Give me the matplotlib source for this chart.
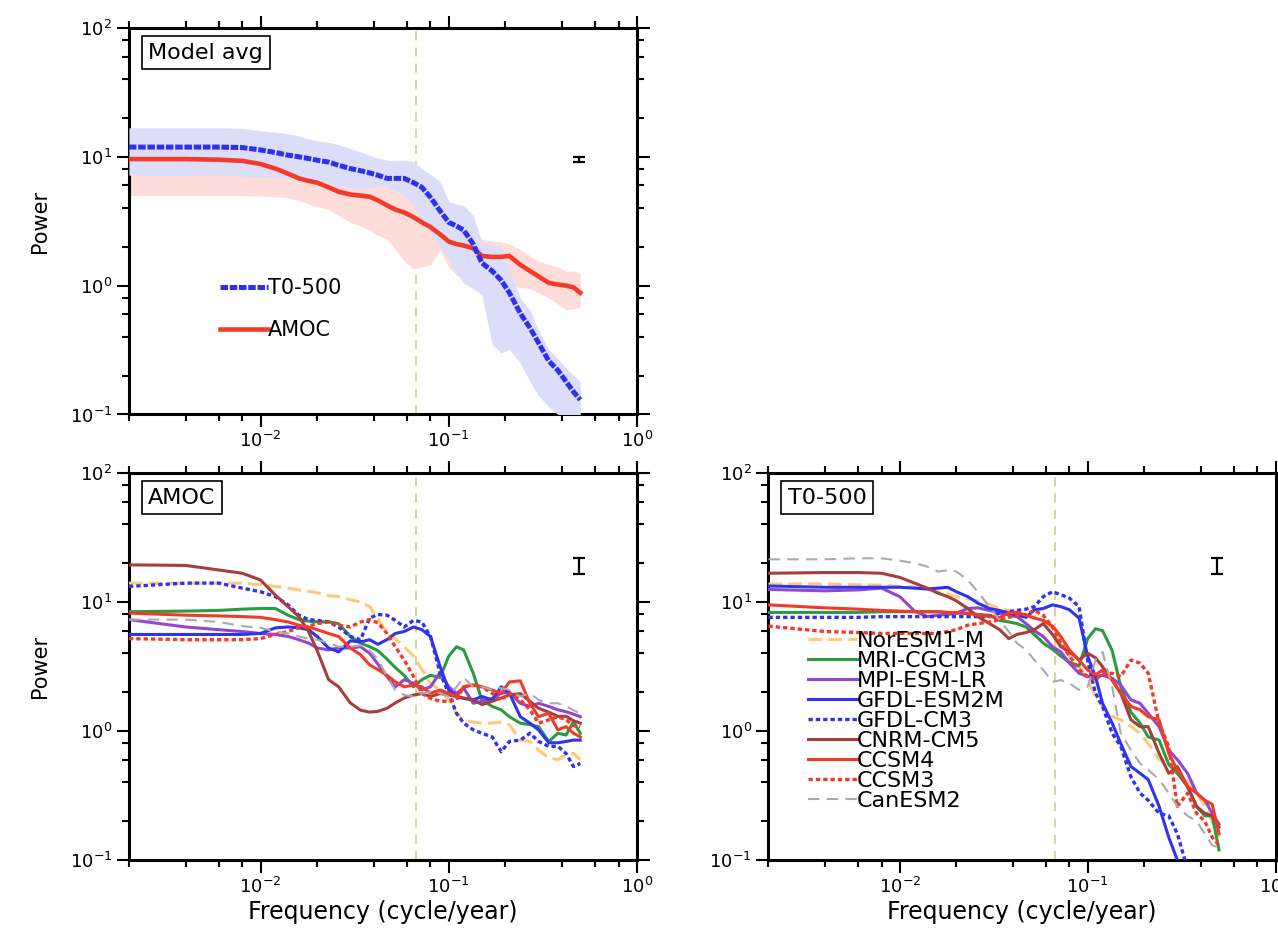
import matplotlib
matplotlib.use("Agg")
import matplotlib.pyplot as plt
from matplotlib.ticker import LogLocator, NullFormatter

plt.rcParams['font.family'] = ['DejaVu Sans']
plt.rcParams['mathtext.default'] = 'regular'

# ---------------- data ----------------
freq = [0.002, 0.004, 0.006, 0.008, 0.01, 0.012, 0.014, 0.016, 0.018, 0.02,
        0.023, 0.026, 0.03, 0.034, 0.038, 0.042, 0.047, 0.052, 0.058, 0.065,
        0.072, 0.08, 0.09, 0.1, 0.11, 0.12, 0.135, 0.15, 0.17, 0.19,
        0.21, 0.24, 0.27, 0.3, 0.34, 0.38, 0.42, 0.46, 0.5]

# Model average panel
avg_t0500 = [11.9, 11.9, 11.9, 11.8, 11.3, 10.8, 10.3, 10.0, 9.7, 9.4,
             9.1, 8.6, 8.1, 7.8, 7.5, 7.2, 6.8, 6.8, 6.8, 6.3,
             5.8, 4.85, 3.8, 3.1, 2.9, 2.7, 2.1, 1.5, 1.3, 1.1,
             0.88, 0.61, 0.47, 0.36, 0.26, 0.22, 0.18, 0.15, 0.13]
avg_t0500_hi = [16.8, 16.8, 16.8, 16.6, 16.0, 15.5, 15.1, 14.5, 13.8, 13.3,
                13.0, 12.4, 11.6, 10.9, 10.3, 9.8, 9.4, 9.3, 9.4, 9.2,
                8.1, 7.3, 6.4, 4.5, 4.3, 4.2, 3.5, 2.15, 2.05, 2.0,
                1.3, 0.8, 0.65, 0.45, 0.32, 0.27, 0.23, 0.2, 0.18]
avg_t0500_lo = [7.2, 7.2, 7.2, 7.1, 7.0, 6.9, 6.8, 6.8, 6.7, 6.6,
                6.3, 6.0, 5.8, 5.6, 5.8, 6.0, 5.8, 5.5, 5.0, 4.3,
                3.3, 2.6, 2.0, 1.6, 1.25, 1.05, 0.95, 0.85, 0.35, 0.3,
                0.32, 0.25, 0.18, 0.14, 0.115, 0.1, 0.09, 0.085, 0.08]
avg_amoc = [9.6, 9.6, 9.5, 9.3, 8.8, 8.1, 7.4, 6.8, 6.5, 6.3,
            5.8, 5.35, 5.1, 5.0, 4.9, 4.6, 4.2, 3.9, 3.7, 3.4,
            3.1, 2.85, 2.5, 2.2, 2.1, 2.05, 1.95, 1.7, 1.67, 1.67,
            1.7, 1.45, 1.3, 1.18, 1.05, 1.02, 1.0, 0.97, 0.88]
avg_amoc_hi = [13.5, 13.5, 13.4, 13.2, 12.8, 12.0, 11.0, 10.3, 9.8, 9.4,
               8.8, 8.3, 7.8, 7.6, 7.3, 7.0, 6.6, 6.2, 5.9, 5.6,
               5.2, 4.6, 4.0, 3.4, 3.1, 2.9, 2.5, 2.3, 2.2, 2.2,
               2.1, 1.9, 1.7, 1.55, 1.45, 1.4, 1.3, 1.3, 1.25]
avg_amoc_lo = [5.0, 5.0, 5.0, 5.0, 4.95, 4.9, 4.8, 4.6, 4.3, 4.1,
               3.9, 3.5, 3.1, 2.9, 2.7, 2.45, 2.3, 1.9, 1.55, 1.35,
               1.4, 1.45, 1.9, 1.4, 1.2, 1.18, 1.1, 1.05, 1.0, 1.0,
               0.99, 0.97, 0.95, 0.88, 0.8, 0.72, 0.65, 0.66, 0.68]

# AMOC spectra of individual models
amoc_noresm = [14.0, 14.0, 14.0, 14.0, 13.6, 13.2, 12.8, 12.4, 12.1, 11.8,
               11.2, 11.0, 10.4, 10.0, 9.2, 7.5, 5.7, 5.2, 4.5, 3.8,
               3.0, 2.34, 2.08, 1.74, 1.37, 1.22, 1.17, 1.15, 1.15, 1.17,
               1.12, 0.85, 0.83, 0.71, 0.62, 0.6, 0.65, 0.67, 0.6]
amoc_mri = [8.4, 8.5, 8.6, 8.8, 8.9, 8.9, 7.9, 7.3, 7.1, 7.0,
            7.0, 6.8, 5.4, 4.8, 4.5, 4.2, 3.6, 3.1, 2.7, 2.2,
            2.5, 2.7, 2.6, 3.8, 4.5, 4.25, 2.8, 1.74, 1.55, 1.46,
            1.29, 1.15, 1.12, 1.08, 0.83, 0.96, 0.93, 1.18, 0.96]
amoc_mpi = [7.3, 6.4, 6.1, 5.9, 5.7, 5.6, 5.4, 5.1, 4.8, 4.4,
            4.25, 4.4, 4.4, 4.5, 4.0, 3.3, 2.64, 2.2, 2.5, 2.34,
            2.08, 2.2, 2.85, 2.2, 1.96, 2.15, 1.64, 1.7, 1.79, 1.96,
            2.0, 1.64, 1.55, 1.64, 1.55, 1.46, 1.41, 1.35, 1.29]
amoc_esm2m = [5.6, 5.6, 5.6, 5.6, 5.7, 6.3, 6.4, 6.3, 6.1, 5.4,
              4.4, 4.1, 5.0, 4.9, 5.1, 4.7, 5.1, 5.7, 5.9, 6.4,
              6.1, 5.4, 3.15, 2.08, 1.85, 1.79, 1.74, 1.85, 1.74, 2.2,
              1.96, 1.29, 1.15, 1.02, 0.81, 0.81, 0.83, 0.85, 0.85]
amoc_cm3 = [13.2, 14.0, 14.0, 12.8, 12.0, 11.0, 9.5, 7.9, 7.3, 7.2,
            7.0, 6.4, 5.4, 5.1, 7.5, 8.0, 7.9, 7.2, 6.4, 7.2,
            7.0, 5.4, 2.8, 1.96, 1.37, 1.15, 1.02, 0.96, 0.9, 0.69,
            0.83, 0.85, 0.96, 0.83, 0.76, 0.76, 0.67, 0.53, 0.56]
amoc_cnrm = [19.4, 19.2, 17.7, 16.7, 14.8, 11.3, 9.2, 7.7, 5.9, 4.2,
             2.5, 2.2, 1.65, 1.45, 1.4, 1.42, 1.5, 1.65, 1.8, 1.9,
             1.95, 1.85, 1.95, 1.9, 1.85, 1.8, 1.75, 1.6, 1.7, 1.8,
             1.9, 1.95, 1.7, 1.5, 1.4, 1.3, 1.3, 1.2, 1.15]
amoc_ccsm4 = [8.2, 7.9, 7.8, 7.7, 7.6, 7.3, 7.0, 6.6, 6.4, 6.1,
              5.7, 5.4, 4.4, 3.9, 3.25, 3.0, 2.7, 2.4, 2.2, 2.27,
              2.2, 1.96, 2.08, 1.96, 1.85, 2.2, 2.27, 2.2, 2.08, 1.96,
              2.4, 2.45, 1.64, 1.29, 1.37, 1.02, 1.08, 0.96, 0.9]
amoc_ccsm3 = [5.2, 5.1, 5.1, 5.1, 5.2, 5.6, 5.9, 6.3, 6.5, 6.8,
              7.0, 6.6, 6.4, 7.0, 7.3, 6.9, 5.7, 4.5, 3.55, 2.64,
              1.96, 1.79, 1.7, 1.7, 1.74, 2.2, 2.27, 2.2, 1.96, 1.74,
              1.96, 1.74, 1.46, 1.15, 1.22, 1.29, 1.22, 1.1, 1.08]
amoc_canesm = [7.3, 7.3, 7.0, 6.5, 6.3, 5.9, 5.7, 5.4, 5.2, 5.1,
               4.8, 4.5, 4.5, 4.6, 4.2, 3.6, 2.64, 2.08, 1.9, 1.85,
               1.96, 2.0, 1.96, 1.85, 2.2, 2.6, 2.2, 2.2, 2.08, 2.15,
               2.08, 1.85, 1.96, 1.74, 1.64, 1.64, 1.55, 1.45, 1.37]

# T0-500 spectra of individual models
t_noresm = [13.8, 13.8, 13.6, 13.5, 13.2, 13.0, 12.6, 12.0, 11.5, 11.0,
            10.6, 10.2, 9.5, 8.9, 8.6, 8.4, 8.0, 7.7, 7.2, 6.3,
            4.8, 3.8, 3.15, 2.5, 1.85, 1.55, 1.3, 1.22, 1.08, 0.96,
            0.8, 0.6, 0.56, 0.47, 0.4, 0.33, 0.26, 0.2, 0.15]
t_mri = [8.3, 8.3, 8.3, 8.4, 8.4, 8.4, 8.4, 8.4, 8.3, 8.2,
         8.2, 8.0, 7.9, 7.2, 7.0, 6.8, 6.4, 5.6, 4.8, 4.3,
         3.8, 3.4, 3.2, 5.2, 6.2, 6.0, 4.2, 2.2, 1.4, 1.15,
         0.9, 0.85, 0.55, 0.47, 0.37, 0.26, 0.22, 0.22, 0.12]
t_mpi = [12.5, 12.2, 12.4, 12.8, 11.0, 8.5, 7.7, 7.9, 8.0, 8.2,
         8.9, 9.0, 8.6, 8.2, 7.9, 7.7, 6.8, 6.0, 5.4, 4.5,
         4.1, 3.35, 2.8, 2.64, 2.64, 2.7, 2.56, 2.27, 1.74, 1.64,
         1.37, 1.08, 0.71, 0.6, 0.47, 0.33, 0.29, 0.23, 0.19]
t_esm2m = [13.3, 13.0, 13.0, 13.0, 13.0, 12.8, 12.6, 12.8, 13.0, 12.0,
           11.0, 9.8, 8.9, 8.6, 8.2, 7.9, 7.6, 8.7, 8.9, 9.5,
           9.2, 8.7, 7.5, 3.8, 2.64, 1.64, 1.15, 0.8, 0.53, 0.47,
           0.42, 0.26, 0.15, 0.1, 0.07, 0.05, 0.04, 0.035, 0.03]
t_cm3 = [7.6, 7.6, 7.6, 7.7, 7.7, 7.7, 7.7, 7.7, 7.7, 7.7,
         7.7, 7.7, 7.7, 8.2, 8.4, 8.6, 8.8, 9.2, 11.0, 12.0,
         11.4, 10.7, 9.2, 3.5, 1.96, 1.55, 0.96, 0.76, 0.44, 0.33,
         0.29, 0.23, 0.22, 0.16, 0.085, 0.06, 0.045, 0.035, 0.03]
t_cnrm = [16.7, 16.9, 16.9, 16.7, 15.5, 14.0, 12.8, 11.7, 11.0, 10.2,
          8.9, 7.7, 6.8, 6.1, 5.2, 5.6, 5.8, 6.1, 6.8, 5.6,
          4.5, 4.1, 3.55, 4.0, 3.7, 3.15, 2.48, 1.96, 1.22, 1.08,
          1.08, 0.67, 0.47, 0.53, 0.37, 0.26, 0.23, 0.22, 0.18]
t_ccsm4 = [9.5, 9.0, 8.8, 8.6, 8.5, 8.4, 8.4, 8.4, 8.3, 8.3,
           8.1, 8.0, 7.7, 7.6, 8.2, 8.3, 7.9, 7.5, 7.2, 6.5,
           5.4, 4.25, 3.55, 2.97, 2.72, 2.97, 2.48, 1.96, 1.55, 1.46,
           1.29, 1.22, 0.67, 0.5, 0.37, 0.33, 0.29, 0.27, 0.16]
t_ccsm3 = [6.5, 5.9, 5.8, 5.7, 5.7, 5.7, 5.7, 5.7, 5.9, 6.1,
           6.6, 6.8, 7.0, 7.3, 7.6, 7.9, 8.0, 8.6, 7.9, 6.4,
           4.8, 3.8, 3.0, 2.64, 2.48, 2.8, 2.8, 2.64, 3.55, 3.35,
           2.8, 1.15, 0.76, 0.26, 0.33, 0.23, 0.2, 0.15, 0.13]
t_canesm = [21.4, 21.4, 21.8, 21.8, 20.9, 20.0, 18.8, 17.2, 17.6, 17.2,
            14.8, 12.0, 9.2, 7.2, 5.9, 4.8, 4.25, 3.55, 2.97, 2.4,
            2.48, 2.34, 2.08, 2.2, 3.55, 4.1, 2.2, 0.96, 0.71, 0.56,
            0.5, 0.42, 0.33, 0.26, 0.22, 0.2, 0.16, 0.13, 0.125]

model_names = ['NorESM1-M', 'MRI-CGCM3', 'MPI-ESM-LR', 'GFDL-ESM2M', 'GFDL-CM3',
               'CNRM-CM5', 'CCSM4', 'CCSM3', 'CanESM2']

marker_freq = 0.0667          # dashed vertical reference line (1/15 cycle/yr)
errbar_freq = 0.49
avg_err = [9.55, 9.15, 10.0]      # centre, low, high
model_err = [18.8, 16.5, 21.8]

# ---------------- styles ----------------
model_colors = ['#FDC97B', '#2A9A43', '#9247D2', '#2F33F0', '#2F33F0',
                '#A63F3C', '#F23A2A', '#F23A2A', '#AAAAAA']
model_styles = [(0, (4.5, 2.0)), '-', '-', '-', (0, (1.3, 0.9)),
                '-', '-', (0, (1.3, 0.9)), (0, (5.5, 3.5))]
model_widths = [2.2, 2.2, 2.2, 2.2, 2.4, 2.2, 2.2, 2.4, 1.5]

amoc_models = [amoc_noresm, amoc_mri, amoc_mpi, amoc_esm2m, amoc_cm3,
               amoc_cnrm, amoc_ccsm4, amoc_ccsm3, amoc_canesm]
t_models = [t_noresm, t_mri, t_mpi, t_esm2m, t_cm3,
            t_cnrm, t_ccsm4, t_ccsm3, t_canesm]

fig = plt.figure(figsize=(12.78, 9.36), dpi=100)
ax_avg = fig.add_axes([0.1009, 0.5572, 0.3975, 0.4129])
ax_amoc = fig.add_axes([0.1009, 0.0812, 0.3975, 0.4135])
ax_t = fig.add_axes([0.6013, 0.0812, 0.3968, 0.4135])


def style_axes(ax):
    ax.set_xscale('log')
    ax.set_yscale('log')
    ax.set_xlim(0.002, 1.0)
    ax.set_ylim(0.1, 100)
    for axis in (ax.xaxis, ax.yaxis):
        axis.set_major_locator(LogLocator(base=10, numticks=10))
        axis.set_minor_locator(LogLocator(base=10, subs=(2, 4, 6, 8), numticks=10))
        axis.set_minor_formatter(NullFormatter())
    ax.tick_params(which='both', direction='out', top=True, right=True,
                   width=1.5, colors='black')
    ax.tick_params(which='major', length=9, labelsize=13, pad=3)
    ax.tick_params(which='minor', length=5)
    for s in ax.spines.values():
        s.set_linewidth(2.2)
    ax.axvline(marker_freq, color='#D8CF98', lw=1.3, ls=(0, (5, 4)), zorder=1)


def title_box(ax, text):
    ax.text(0.038, 0.962, text, transform=ax.transAxes, ha='left', va='top',
            fontsize=16, zorder=10,
            bbox=dict(boxstyle='square,pad=0.3', fc='white', ec='black', lw=1.2))


def errbar(ax, vals, cap):
    c, lo, hi = vals
    ax.errorbar([errbar_freq], [c], yerr=[[c - lo], [hi - c]], fmt='none',
                ecolor='black', elinewidth=1.6, capsize=cap, capthick=1.6, zorder=6)


for ax in (ax_avg, ax_amoc, ax_t):
    style_axes(ax)

# ---- Model average ----
ax_avg.fill_between(freq, avg_amoc_lo, avg_amoc_hi, color='#FDDCDA', lw=0, zorder=2)
ax_avg.fill_between(freq, avg_t0500_lo, avg_t0500_hi, color='#DCDDF9', lw=0, zorder=3)
l_t, = ax_avg.plot(freq, avg_t0500, color='#2F2FF0', lw=3.6,
                   ls=(0, (1.5, 0.35)), dash_capstyle='butt', zorder=5)
l_a, = ax_avg.plot(freq, avg_amoc, color='#F43A2A', lw=3.3, zorder=4)
errbar(ax_avg, avg_err, 4)
title_box(ax_avg, 'Model avg')
ax_avg.legend([l_t, l_a], ['T0-500', 'AMOC'], loc='upper left',
              bbox_to_anchor=(0.179, 0.352), frameon=False, fontsize=15,
              handlelength=2.3, handletextpad=0.0, borderpad=0, borderaxespad=0,
              labelspacing=1.04)
ax_avg.set_ylabel('Power', fontsize=15)
ax_avg.yaxis.set_label_coords(-0.155, 0.5)

# ---- AMOC models ----
for vals, c, s, w, n in zip(amoc_models, model_colors, model_styles, model_widths, model_names):
    ax_amoc.plot(freq, vals, color=c, ls=s, lw=w, label=n, zorder=4)
errbar(ax_amoc, model_err, 4)
title_box(ax_amoc, 'AMOC')
ax_amoc.set_ylabel('Power', fontsize=15)
ax_amoc.yaxis.set_label_coords(-0.155, 0.5)
ax_amoc.set_xlabel('Frequency (cycle/year)', fontsize=17, labelpad=2)

# ---- T0-500 models ----
t_lines = []
for vals, c, s, w, n in zip(t_models, model_colors, model_styles, model_widths, model_names):
    ln, = ax_t.plot(freq, vals, color=c, ls=s, lw=w, label=n, zorder=4)
    t_lines.append(ln)
errbar(ax_t, model_err, 4)
title_box(ax_t, 'T0-500')
ax_t.set_xlabel('Frequency (cycle/year)', fontsize=17, labelpad=2)
ax_t.legend(t_lines, model_names, loc='upper left', bbox_to_anchor=(0.078, 0.592),
            frameon=False, fontsize=16, handlelength=2.2, handletextpad=0.0,
            borderpad=0, borderaxespad=0, labelspacing=0.0)

fig.savefig('out.png', dpi=100)
